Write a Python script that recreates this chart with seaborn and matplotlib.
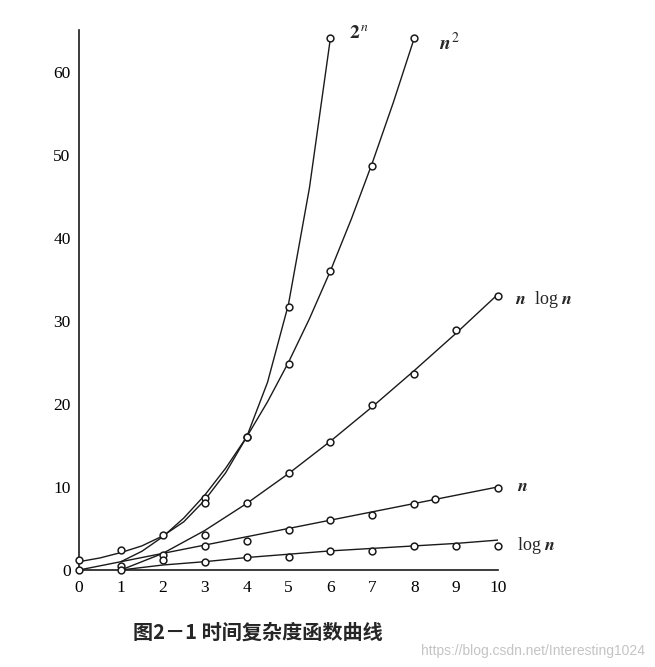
import matplotlib
matplotlib.use("Agg")
import matplotlib.pyplot as plt
import seaborn as sns
import pandas as pd

# ---- data ----
x_ticks = [0, 1, 2, 3, 4, 5, 6, 7, 8, 9, 10]
y_ticks = [0, 10, 20, 30, 40, 50, 60]

# curve lines
two_n_x = [0, 0.5, 1, 1.5, 2, 2.5, 3, 3.5, 4, 4.5, 5, 5.5, 6]
two_n_y = [1, 1.45, 2.1, 2.9, 4.1, 5.8, 8.4, 11.7, 16, 22.6, 32, 46, 64]
n_sq_x = [1, 1.5, 2, 2.5, 3, 3.5, 4, 4.5, 5, 5.5, 6, 6.5, 7, 7.5, 8]
n_sq_y = [1, 2.25, 4, 6.25, 9, 12.25, 16, 20.25, 25, 30.25, 36, 42.25, 49, 56.25, 64]
nlogn_x = [1, 2, 3, 4, 5, 6, 7, 8, 9, 10]
nlogn_y = [0, 2, 4.75, 8, 11.6, 15.5, 19.65, 24, 28.5, 33.2]
n_x = [0, 1, 2, 3, 4, 5, 6, 7, 8, 9, 10]
n_y = [0, 1, 2, 3, 4, 5, 6, 7, 8, 9, 10]
logn_x = [1, 2, 3, 4, 5, 6, 7, 8, 9, 10]
logn_y = [0, 0.6, 1.0, 1.5, 1.9, 2.3, 2.6, 2.9, 3.2, 3.6]

# plotted circle markers
two_n_mx = [0, 1, 2, 3, 4, 5, 6]
two_n_my = [1.2, 2.4, 4.2, 8.7, 16, 31.7, 64]
n_sq_mx = [1, 3, 4, 5, 6, 7, 8]
n_sq_my = [0.5, 8.1, 16, 24.8, 36, 48.6, 64]
nlogn_mx = [1, 3, 4, 5, 6, 7, 8, 9, 10]
nlogn_my = [0, 4.2, 8.1, 11.7, 15.4, 19.9, 23.6, 28.9, 33]
n_mx = [0, 2, 3, 4, 5, 6, 7, 8, 8.5, 10]
n_my = [0, 1.8, 2.9, 3.5, 4.8, 6.0, 6.6, 8.0, 8.6, 9.9]
logn_mx = [2, 3, 4, 5, 6, 7, 8, 9, 10]
logn_my = [1.2, 1.0, 1.6, 1.6, 2.3, 2.3, 2.9, 2.9, 2.9]

caption = "图2－1 时间复杂度函数曲线"
watermark = "https://blog.csdn.net/Interesting1024"

sns.set_theme(style="white")
plt.rcParams["font.family"] = ["Liberation Serif", "DejaVu Serif"]
plt.rcParams["mathtext.fontset"] = "stix"

fig = plt.figure(figsize=(6.55, 6.67), dpi=100)
ax = fig.add_axes([79 / 655, 1 - 570 / 667, (498 - 79) / 655, (570 - 30) / 667])

ink = "#1a1a1a"
series = [
    (two_n_x, two_n_y, two_n_mx, two_n_my),
    (n_sq_x, n_sq_y, n_sq_mx, n_sq_my),
    (nlogn_x, nlogn_y, nlogn_mx, nlogn_my),
    (n_x, n_y, n_mx, n_my),
    (logn_x, logn_y, logn_mx, logn_my),
]
for lx, ly, mx, my in series:
    sns.lineplot(data=pd.DataFrame({"x": lx, "y": ly}), x="x", y="y", ax=ax,
                 color=ink, linewidth=1.0, sort=False, estimator=None)
    sns.scatterplot(data=pd.DataFrame({"x": mx, "y": my}), x="x", y="y", ax=ax,
                    marker="o", s=24, facecolor="white", edgecolor=ink,
                    linewidth=1.1, zorder=3, clip_on=False)

ax.set_xlim(0, 10)
ax.set_ylim(0, 65)
ax.set_xticks(x_ticks)
ax.set_yticks(y_ticks)
ax.set_xlabel("")
ax.set_ylabel("")
for s in ["top", "right"]:
    ax.spines[s].set_visible(False)
for s in ["left", "bottom"]:
    ax.spines[s].set_color(ink)
    ax.spines[s].set_linewidth(1.2)
ax.tick_params(axis="both", direction="in", length=10, width=1.1, color=ink,
               labelsize=12.5, labelcolor="black")
ax.tick_params(axis="y", pad=6)
ax.tick_params(axis="x", pad=7)

# curve labels
ax.text(6.45, 64.5, r"$\mathbf{2}^{\,n}$", fontsize=14, ha="left", va="center",
        clip_on=False)
ax.text(8.6, 63.4, r"$\boldsymbol{n}^{\,2}$", fontsize=14, ha="left", va="center",
        clip_on=False)
ax.text(10.4, 32.6, r"$\boldsymbol{n}$  log $\boldsymbol{n}$", fontsize=13,
        ha="left", va="center", clip_on=False)
ax.text(10.45, 10.0, r"$\boldsymbol{n}$", fontsize=13, ha="left", va="center",
        clip_on=False)
ax.text(10.45, 3.0, r"log $\boldsymbol{n}$", fontsize=13, ha="left",
        va="center", clip_on=False)

fig.text(133 / 655, 1 - 632 / 667, caption, fontsize=14.5, fontweight="bold",
         family=["Noto Sans CJK SC", "DejaVu Sans"], ha="left", va="center")
fig.text(645 / 655, 1 - 651 / 667, watermark, fontsize=10, color="#c4c4c4",
         family=["Liberation Sans", "DejaVu Sans"], ha="right", va="center")

fig.savefig("out.png", dpi=100)
